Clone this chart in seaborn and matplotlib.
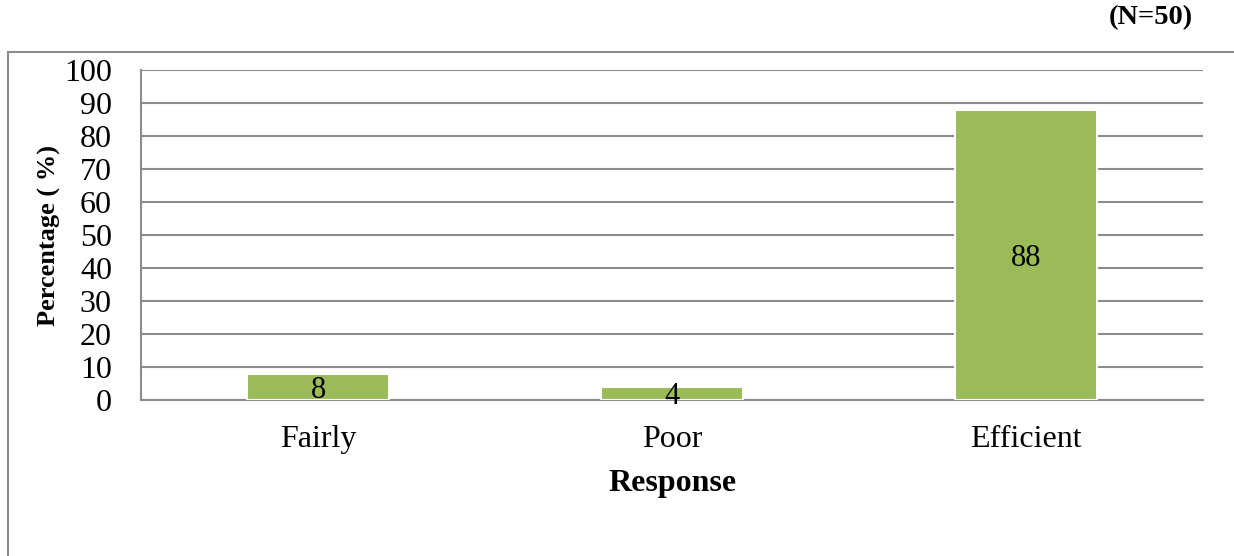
import pandas as pd
import seaborn as sns
import matplotlib.pyplot as plt
from matplotlib.patches import Rectangle
from matplotlib.ticker import FixedLocator

responses = ['Fairly', 'Poor', 'Efficient']
percentages = [8, 4, 88]
y_ticks = list(range(0, 101, 10))

df = pd.DataFrame({'Response': responses, 'Percentage': percentages})

sns.set_style('white')
plt.rcParams['font.family'] = ['Liberation Serif', 'DejaVu Serif']
plt.rcParams['text.color'] = 'black'
plt.rcParams['axes.labelcolor'] = 'black'

fig = plt.figure(figsize=(12.34, 5.56), dpi=100)
ax = fig.add_axes([0.1143, 0.2806, 0.975 - 0.1143, 0.874 - 0.2806])

sns.barplot(data=df, x='Response', y='Percentage', order=responses,
            color='#9BBB59', width=0.4, saturation=1, edgecolor='white',
            linewidth=1.5, ax=ax, zorder=3)

ax.set_ylim(0, 100)
ax.set_xlim(-0.5, 2.5)
ax.set_yticks(y_ticks)
ax.yaxis.grid(True, color='#8c8c8c', linewidth=1.5, zorder=0)
ax.set_axisbelow(True)

for s in ['top', 'right']:
    ax.spines[s].set_visible(False)
for s in ['left', 'bottom']:
    ax.spines[s].set_color('#8c8c8c')
    ax.spines[s].set_linewidth(1.5)

ax.tick_params(axis='y', length=8, width=1.5, color='#8c8c8c', labelcolor='black',
               labelsize=23, pad=13)
ax.tick_params(axis='x', which='major', length=0, labelsize=23, pad=18, labelcolor='black')
ax.xaxis.set_minor_locator(FixedLocator([-0.5, 0.5, 1.5, 2.5]))
ax.tick_params(axis='x', which='minor', length=6, width=1.5, color='#8c8c8c')

for i, v in enumerate(percentages):
    ax.text(i, v / 2, str(v), ha='center', va='center_baseline', fontsize=22, zorder=4)

ax.set_xlabel('Response', fontsize=23, fontweight='bold', labelpad=11)
ax.set_ylabel('Percentage ( %)', fontsize=19, fontweight='bold', labelpad=2)

fig.text(0.967, 0.969, '(N=50)', ha='right', va='center', fontsize=20.5, fontweight='bold')

border = Rectangle((8 / 1234, -0.2), 1.2, 1 - 52 / 556 + 0.2, transform=fig.transFigure,
                   fill=False, edgecolor='#8c8c8c', linewidth=1.5, clip_on=False)
fig.patches.append(border)

fig.savefig('out.png', dpi=100)
